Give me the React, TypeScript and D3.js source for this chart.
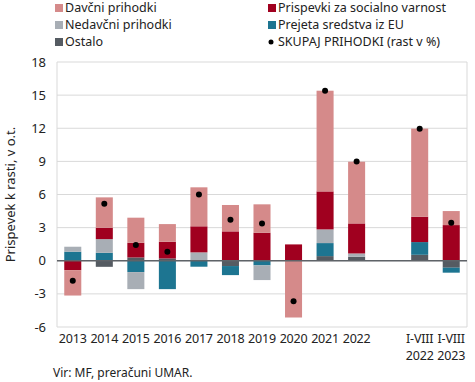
import React from "react";
import * as d3 from "d3";

const categories = ["2013","2014","2015","2016","2017","2018","2019","2020","2021","2022","","I-VIII|2022","I-VIII|2023"];
const davcni =    [-2.3, 2.75, 2.27, 1.6, 3.53, 2.39, 2.57, -5.14, 9.12, 5.59, 0, 7.98, 1.27];
const prispevki = [-0.85, 1.03, 1.33, 1.51, 2.36, 2.66, 2.54, 1.48, 3.44, 2.72, 0, 2.3, 3.23];
const nedavcni =  [0.45, 1.24, -1.54, 0, 0.76, 0, -1.33, 0, 1.24, 0.3, 0, 0, 0];
const eu =        [0.82, 0.72, -1.03, -2.57, -0.54, -0.82, -0.42, 0, 1.18, 0, 0, 1.15, -0.45];
const ostalo =    [0, -0.55, 0.3, 0.21, 0, -0.48, 0, 0, 0.42, 0.36, 0, 0.54, -0.63];
const skupaj =    [-1.8, 5.17, 1.42, 0.82, 6.0, 3.72, 3.38, -3.66, 15.4, 9.0, NaN, 11.96, 3.44];
const yTicks = [-6, -3, 0, 3, 6, 9, 12, 15, 18];

const seriesKeys = ["ostalo", "eu", "nedavcni", "prispevki", "davcni"];
const seriesColors: Record<string, string> = {
  davcni: "#D58A8A",
  prispevki: "#A0001F",
  nedavcni: "#A8AEB5",
  eu: "#1D7591",
  ostalo: "#555B62",
};

const W = 475, H = 382;
const M = { left: 57, right: 8, top: 62, bottom: 55 };
const FONT = "'Noto Sans', sans-serif";

export default function App() {
  const x = d3.scaleBand<string>().domain(categories.map((c, i) => i + ":" + c))
    .range([M.left, W - M.right]).paddingInner(0.46).paddingOuter(0.23);
  const y = d3.scaleLinear().domain([-6, 18]).range([H - M.bottom, M.top]);

  const rows = categories.map((c, i) => ({
    key: i + ":" + c,
    davcni: davcni[i], prispevki: prispevki[i], nedavcni: nedavcni[i], eu: eu[i], ostalo: ostalo[i],
  }));
  const stacked = d3.stack<any>().keys(seriesKeys).offset(d3.stackOffsetDiverging)(rows);

  const legend = [
    { label: "Davčni prihodki", key: "davcni", x: 55, y: 8 },
    { label: "Nedavčni prihodki", key: "nedavcni", x: 55, y: 25 },
    { label: "Ostalo", key: "ostalo", x: 55, y: 42 },
    { label: "Prispevki za socialno varnost", key: "prispevki", x: 268, y: 8 },
    { label: "Prejeta sredstva iz EU", key: "eu", x: 268, y: 25 },
    { label: "SKUPAJ PRIHODKI (rast v %)", key: "dot", x: 268, y: 42 },
  ];

  const x0 = M.left, x1 = W - M.right;
  return (
    <svg width={W} height={H} style={{ position: "absolute", left: 0, top: 0, fontFamily: FONT }}>
      <rect width={W} height={H} fill="#fff" />
      {yTicks.map(t => (
        <g key={t}>
          <line x1={x0} x2={x1} y1={y(t)} y2={y(t)} stroke="#D9D9D9" strokeWidth={1} />
          <text x={46} y={y(t)} dy="0.35em" textAnchor="end" fontSize={13} fill="#222">{t}</text>
        </g>
      ))}
      <line x1={x0} x2={x0} y1={y(18)} y2={y(-6)} stroke="#D9D9D9" />
      <line x1={x1} x2={x1} y1={y(18)} y2={y(-6)} stroke="#D9D9D9" />
      {stacked.map(s => (
        <g key={s.key} fill={seriesColors[s.key]}>
          {s.map((d, i) => {
            const h = Math.abs(y(d[0]) - y(d[1]));
            if (!h) return null;
            return <rect key={i} x={x(rows[i].key)} width={x.bandwidth()} y={Math.min(y(d[0]), y(d[1]))} height={h} />;
          })}
        </g>
      ))}
      <line x1={x0} x2={x1} y1={y(0)} y2={y(0)} stroke="#5F6368" strokeWidth={1.5} />
      {skupaj.map((v, i) => isNaN(v) ? null : (
        <circle key={i} cx={(x(rows[i].key) as number) + x.bandwidth() / 2} cy={y(v)} r={3} fill="#000" />
      ))}
      {categories.map((c, i) => {
        const cx = (x(rows[i].key) as number) + x.bandwidth() / 2;
        return c.split("|").map((line, j) => (
          <text key={i + "-" + j} x={cx} y={343 + j * 17} textAnchor="middle" fontSize={12.5} letterSpacing={-0.2} fill="#222">{line}</text>
        ));
      })}
      <text transform={`translate(15,${(y(18) + y(-6)) / 2}) rotate(-90)`} textAnchor="middle" fontSize={13} fill="#222">
        Prispevek k rasti, v o.t.
      </text>
      {legend.map(l => (
        <g key={l.key}>
          {l.key === "dot"
            ? <circle cx={l.x + 3} cy={l.y} r={2.5} fill="#000" />
            : <rect x={l.x} y={l.y - 4} width={8} height={8} fill={seriesColors[l.key]} />}
          <text x={l.x + 10} y={l.y} dy="0.35em" fontSize={12.5} fill="#222">{l.label}</text>
        </g>
      ))}
      <text x={53} y={377} fontSize={12} fill="#222">Vir: MF, preračuni UMAR.</text>
    </svg>
  );
}
